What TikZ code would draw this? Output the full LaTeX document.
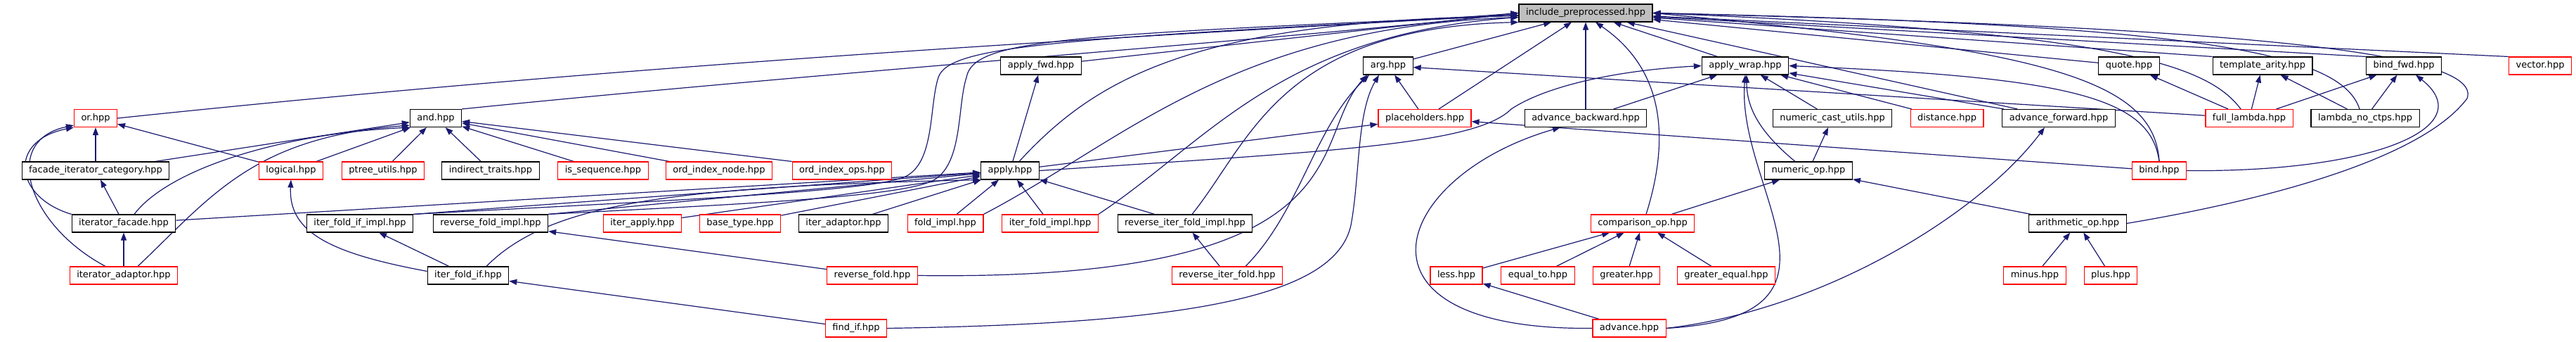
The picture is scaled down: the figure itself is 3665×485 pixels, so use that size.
\documentclass[tikz,border=0pt]{standalone}
\usepackage{fontspec}
\setmainfont{DejaVu Sans}
\usetikzlibrary{arrows.meta}
\definecolor{edgeblue}{HTML}{191970}
\definecolor{rootgray}{HTML}{BFBFBF}
\pgfdeclarelayer{background}
\pgfsetlayers{background,main}

\begin{document}
\begin{tikzpicture}[x=1pt, y=-1pt, >={Triangle[length=11pt,width=8pt]},
    hpp/.style={rectangle, draw=black, line width=1.1pt, fill=white, font=\fontsize{13}{15}\selectfont, inner xsep=10pt, inner ysep=0pt, minimum height=25pt, text height=9.5pt, text depth=2.7pt},
    trunc/.style={hpp, draw=red},
    dep/.style={draw=edgeblue, ->, line width=1.2pt}]

    \useasboundingbox (0,0) rectangle (3665,485);

    % Row 0: the file itself
    \node [hpp, fill=rootgray] (inc) at (2256,18.5) {include\_preprocessed.hpp};

    % Row 1
    \node [hpp] (applyfwd) at (1481,93.5) {apply\_fwd.hpp};
    \node [hpp] (arg) at (1975,93.5) {arg.hpp};
    \node [hpp] (applywrap) at (2483,93.5) {apply\_wrap.hpp};
    \node [hpp] (quote) at (3029,93.5) {quote.hpp};
    \node [hpp] (tarity) at (3219,93.5) {template\_arity.hpp};
    \node [hpp] (bindfwd) at (3420,93.5) {bind\_fwd.hpp};
    \node [trunc] (vector) at (3614,93.5) {vector.hpp};

    % Row 2
    \node [trunc] (or) at (136,168) {or.hpp};
    \node [hpp] (and) at (620,168) {and.hpp};
    \node [trunc] (placeholders) at (2027,168) {placeholders.hpp};
    \node [hpp] (advback) at (2256,168) {advance\_backward.hpp};
    \node [hpp] (numcast) at (2607,168) {numeric\_cast\_utils.hpp};
    \node [trunc] (distance) at (2770,168) {distance.hpp};
    \node [hpp] (advfwd) at (2929,168) {advance\_forward.hpp};
    \node [trunc] (fulllambda) at (3200,168) {full\_lambda.hpp};
    \node [hpp] (lambdanoctps) at (3365,168) {lambda\_no\_ctps.hpp};

    % Row 3
    \node [hpp] (facadecat) at (136,242.5) {facade\_iterator\_category.hpp};
    \node [trunc] (logical) at (414,242.5) {logical.hpp};
    \node [trunc] (ptree) at (545,242.5) {ptree\_utils.hpp};
    \node [hpp] (indirect) at (698,242.5) {indirect\_traits.hpp};
    \node [trunc] (isseq) at (858,242.5) {is\_sequence.hpp};
    \node [trunc] (ordnode) at (1023,242.5) {ord\_index\_node.hpp};
    \node [trunc] (ordops) at (1198,242.5) {ord\_index\_ops.hpp};
    \node [hpp] (apply) at (1437,242.5) {apply.hpp};
    \node [hpp] (numop) at (2573,242.5) {numeric\_op.hpp};
    \node [trunc] (bind) at (3072,242.5) {bind.hpp};

    % Row 4
    \node [hpp] (itfacade) at (176,317.5) {iterator\_facade.hpp};
    \node [hpp] (iffimpl) at (512,317.5) {iter\_fold\_if\_impl.hpp};
    \node [hpp] (rfoldimpl) at (698,317.5) {reverse\_fold\_impl.hpp};
    \node [trunc] (iterapply) at (914,317.5) {iter\_apply.hpp};
    \node [trunc] (basetype) at (1053,317.5) {base\_type.hpp};
    \node [hpp] (iteradaptor) at (1200,317.5) {iter\_adaptor.hpp};
    \node [trunc] (foldimpl) at (1345,317.5) {fold\_impl.hpp};
    \node [trunc] (itfoldimpl) at (1494,317.5) {iter\_fold\_impl.hpp};
    \node [hpp] (rifoldimpl) at (1686,317.5) {reverse\_iter\_fold\_impl.hpp};
    \node [trunc] (cmpop) at (2337,317.5) {comparison\_op.hpp};
    \node [hpp] (arithop) at (2956,317.5) {arithmetic\_op.hpp};

    % Row 5
    \node [trunc] (itadaptor) at (176,391.5) {iterator\_adaptor.hpp};
    \node [hpp] (iffold) at (666,391.5) {iter\_fold\_if.hpp};
    \node [trunc] (rfold) at (1241,391.5) {reverse\_fold.hpp};
    \node [trunc] (rifold) at (1746,391.5) {reverse\_iter\_fold.hpp};
    \node [trunc] (less) at (2072,391.5) {less.hpp};
    \node [trunc] (equalto) at (2188,391.5) {equal\_to.hpp};
    \node [trunc] (greater) at (2314,391.5) {greater.hpp};
    \node [trunc] (greatereq) at (2456,391.5) {greater\_equal.hpp};
    \node [trunc] (minus) at (2895,391.5) {minus.hpp};
    \node [trunc] (plus) at (3003,391.5) {plus.hpp};

    % Row 6
    \node [trunc] (findif) at (1218,466.5) {find\_if.hpp};
    \node [trunc] (advance) at (2318,466.5) {advance.hpp};

    \begin{pgfonlayer}{background}
    % into include_preprocessed.hpp
    \path [dep] (or.east) .. controls (1100,70) and (1900,40) .. (inc.west);
    \path [dep] (and.north east) .. controls (1200,100) and (1900,50) .. (inc.west);
    \path [dep] (applyfwd) -- (inc.west);
    \path [dep] ([xshift=13pt]apply.north) .. controls (1560,110) and (1700,30) .. ([yshift=-4pt]inc.west);
    \path [dep] (iffimpl.north east) .. controls (950,285) and (1250,272) .. (1290,250)
        .. controls (1330,228) and (1322,150) .. (1335,110)
        .. controls (1350,65) and (1500,55) .. ([yshift=-3pt]inc.west);
    \path [dep] (rfoldimpl.north east) .. controls (1050,290) and (1290,280) .. (1330,255)
        .. controls (1370,230) and (1362,150) .. (1375,110)
        .. controls (1385,55) and (1520,50) .. ([yshift=-3pt]inc.west);
    \path [dep] (foldimpl.north east) .. controls (1600,200) and (1750,40) .. ([yshift=-6pt]inc.west);
    \path [dep] (itfoldimpl.north east) .. controls (1720,200) and (1820,50) .. ([yshift=-6pt]inc.west);
    \path [dep] ([xshift=10pt]rifoldimpl.north) .. controls (1780,200) and (1820,40) .. (inc.south west);
    \path [dep] (arg) -- (inc);
    \path [dep] (placeholders) -- (inc);
    \path [dep] (advback) -- (inc);
    \path [dep] ([xshift=5pt]cmpop.north) .. controls (2375,200) and (2370,100) .. ([xshift=14pt]inc.south);
    \path [dep] (applywrap) -- (inc);
    \path [dep] (advfwd) -- (inc);
    \path [dep] (quote) -- (inc);
    \path [dep] (tarity.north west) -- (inc);
    \path [dep] (bindfwd.north west) -- (inc);
    \path [dep] (vector.north west) -- (inc);
    \path [dep] ([xshift=-12pt]fulllambda.north) .. controls (3140,90) and (3000,45) .. (inc.east);
    \path [dep] ([xshift=-8pt]lambdanoctps.north) .. controls (3330,70) and (3100,35) .. (inc.east);
    \path [dep] (bind.north) .. controls (3065,110) and (2900,70) .. (inc.east);
    \path [dep] (arithop.east) .. controls (3250,280) and (3450,220) .. (3510,140)
        .. controls (3540,60) and (3000,35) .. (inc.east);

    % or.hpp and and.hpp
    \path [dep] (facadecat) -- (or);
    \path [dep] (logical) -- (or);
    \path [dep] (itfacade.north west) .. controls (20,280) and (10,200) .. (or.south west);
    \path [dep] ([xshift=-26pt]itadaptor.north) .. controls (40,320) and (0,200) .. ([yshift=3pt]or.south west);
    \path [dep] (facadecat) -- (and);
    \path [dep] ([xshift=15pt]itfacade.north) .. controls (240,240) and (400,190) .. (and.south west);
    \path [dep] ([xshift=20pt]itadaptor.north) .. controls (300,280) and (360,195) .. ([yshift=3pt]and.south west);
    \path [dep] (logical) -- (and);
    \path [dep] (ptree) -- (and);
    \path [dep] (indirect) -- (and);
    \path [dep] (isseq) -- (and);
    \path [dep] (ordnode) -- (and);
    \path [dep] (ordops.north west) -- (and);
    \path [dep] (itfacade) -- (facadecat);
    \path [dep] (itadaptor) -- (itfacade);

    % apply.hpp
    \path [dep] (apply) -- (applyfwd);
    \path [dep] (itfacade) -- (apply);
    \path [dep] (iffimpl.north east) -- (apply);
    \path [dep] (rfoldimpl.north east) -- (apply);
    \path [dep] ([xshift=26pt]iffold.north) .. controls (780,290) and (950,265) .. (apply.south west);
    \path [dep] (iterapply) -- (apply);
    \path [dep] (basetype) -- (apply);
    \path [dep] (iteradaptor) -- (apply);
    \path [dep] (foldimpl) -- (apply);
    \path [dep] (itfoldimpl) -- (apply);
    \path [dep] (rifoldimpl) -- (apply);

    % fold family
    \path [dep] ([yshift=6pt]iffold.west) .. controls (470,360) and (410,330) .. (logical.south);
    \path [dep] (iffold) -- (iffimpl);
    \path [dep] (findif) -- (iffold);
    \path [dep] (rfold) -- (rfoldimpl);
    \path [dep] (rifold) -- (rifoldimpl);

    % arg.hpp and placeholders.hpp
    \path [dep] (placeholders) -- (arg);
    \path [dep] (rfold.east) .. controls (1950,400) and (1860,200) .. ([xshift=-30pt]arg.south);
    \path [dep] ([xshift=26pt]rifold.north) .. controls (1850,300) and (1870,180) .. ([xshift=-27pt]arg.south);
    \path [dep] (findif.east) .. controls (1700,460) and (1900,420) .. (1922,320)
        .. controls (1935,250) and (1930,160) .. ([xshift=-13pt]arg.south);
    \path [dep] (fulllambda) -- (arg);
    \path [dep] (apply) -- (placeholders);
    \path [dep] (bind) -- (placeholders);

    % apply_wrap.hpp
    \path [dep] (apply.east) .. controls (1900,215) and (2100,205) .. (2150,155)
        .. controls (2200,122) and (2300,100) .. (applywrap.west);
    \path [dep] (advback) -- (applywrap);
    \path [dep] ([xshift=-19pt]numop.north) .. controls (2500,185) and (2485,150) .. ([xshift=2pt]applywrap.south);
    \path [dep] (advance.east) .. controls (2660,450) and (2470,270) .. (applywrap.south);
    \path [dep] (numcast) -- (applywrap);
    \path [dep] (distance) -- (applywrap);
    \path [dep] (advfwd) -- (applywrap);
    \path [dep] (bind.north) .. controls (3060,140) and (2950,110) .. (applywrap.east);

    % numeric and comparison operators
    \path [dep] (numop) -- (numcast);
    \path [dep] (cmpop) -- (numop);
    \path [dep] (arithop) -- (numop);
    \path [dep] (less) -- (cmpop);
    \path [dep] (equalto) -- (cmpop);
    \path [dep] (greater) -- (cmpop);
    \path [dep] (greatereq) -- (cmpop);
    \path [dep] (minus) -- (arithop);
    \path [dep] (plus) -- (arithop);

    % advance.hpp
    \path [dep] (advance) -- (less);
    \path [dep] (advance.west) .. controls (1900,470) and (1980,250) .. ([xshift=-36pt]advback.south);
    \path [dep] (advance.east) .. controls (2600,440) and (2820,300) .. ([xshift=-20pt]advfwd.south);

    % lambda group
    \path [dep] (fulllambda) -- (quote);
    \path [dep] (fulllambda) -- (tarity);
    \path [dep] (fulllambda) -- (bindfwd);
    \path [dep] (lambdanoctps) -- (tarity);
    \path [dep] (lambdanoctps) -- (bindfwd);
    \path [dep] (bind.east) .. controls (3380,245) and (3530,180) .. ([xshift=17pt]bindfwd.south);
    \end{pgfonlayer}
\end{tikzpicture}
\end{document}
